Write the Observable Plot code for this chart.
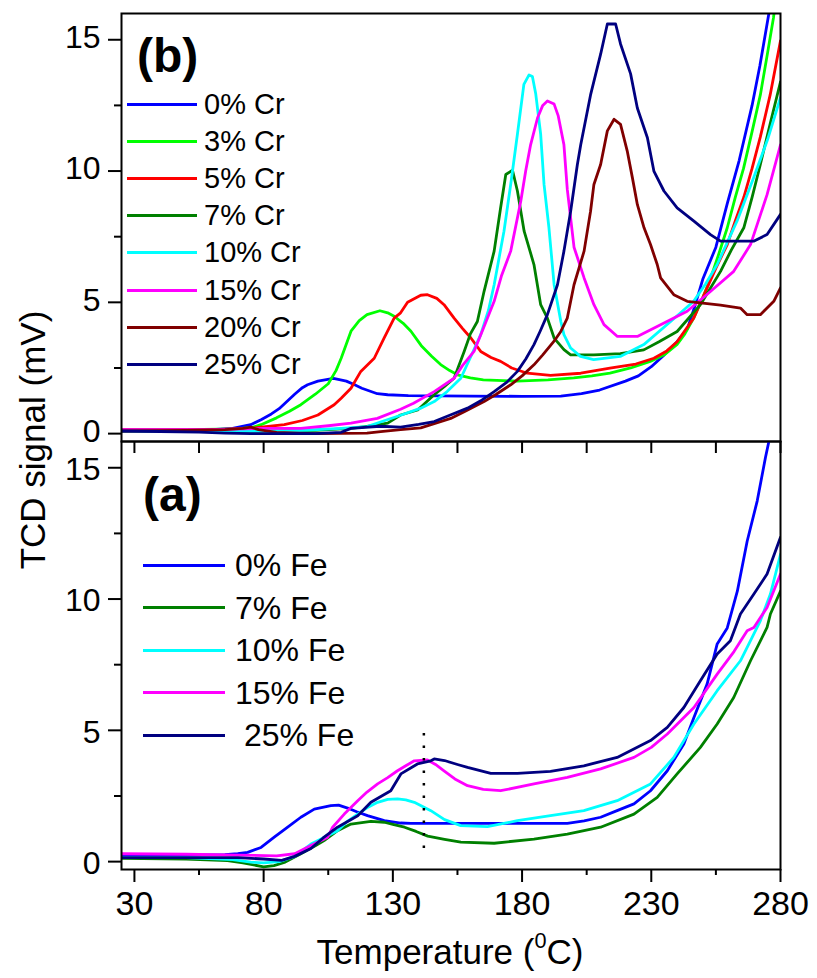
<!DOCTYPE html>
<html><head><meta charset="utf-8">
<script src="https://cdn.jsdelivr.net/npm/d3@7"></script>
<script src="https://cdn.jsdelivr.net/npm/@observablehq/plot@0.6"></script>
<style>
body{margin:0;background:#fff;}
#wrap{position:relative;width:817px;height:978px;background:#fff;font-family:"Liberation Sans",Arial,sans-serif;overflow:hidden;color:#000}
#wrap svg{position:absolute;left:0}
.lg{position:absolute;display:flex;align-items:center;white-space:pre;line-height:1}
.lg .sw{display:inline-block;height:3px}
.ttl{position:absolute;white-space:nowrap;line-height:1}
</style></head><body><div id="wrap"></div>
<script>
// ---------- DATA ----------
const xTicksMajor = [30, 80, 130, 180, 230, 280];
const xTicksMinor = [55, 105, 155, 205, 255];
const yTicksMajor = [0, 5, 10, 15];
const yTicksMinor = [2.5, 7.5, 12.5];

// Panel (b): Cr series  [temperature, signal]
const cr0 = [[25,0.15],[40,0.15],[60,0.15],[68,0.2],[75,0.34],[79,0.53],[83,0.75],[86,0.95],[92,1.5],[95,1.75],[97,1.86],[101,2.0],[107,2.1],[112,2.0],[115,1.87],[118,1.73],[124,1.52],[128,1.48],[136,1.45],[160,1.43],[180,1.42],[195,1.43],[203,1.52],[210,1.66],[220,2.0],[225,2.2],[230,2.55],[235,3.0],[240,3.5],[244,4.0],[247,4.9],[250,5.9],[255,7.1],[259.5,8.8],[264,10.4],[269,12.5],[272,14.0],[275.5,16],[276.5,16.6]];
const cr3 = [[25,0.15],[50,0.15],[70,0.18],[76,0.25],[79,0.34],[85,0.6],[90,0.85],[94.4,1.1],[100,1.5],[105,1.9],[108,2.4],[110,2.87],[113.8,3.9],[117,4.3],[120,4.53],[125,4.68],[128,4.6],[130.5,4.47],[134,4.2],[137,3.9],[141,3.35],[145,2.95],[148.5,2.63],[152,2.4],[155,2.24],[160,2.12],[165,2.05],[178,2.0],[190,2.05],[200,2.12],[207,2.2],[214,2.3],[222,2.5],[229.6,2.75],[235,3.0],[240,3.4],[243,3.8],[246.4,4.4],[250,5.2],[253,5.93],[256,6.8],[259.4,7.84],[262.5,9.0],[265.7,10.1],[269,11.5],[272.2,12.9],[275,14.5],[277.3,15.85],[278,16.4]];
const cr5 = [[25,0.15],[60,0.15],[75,0.2],[88,0.34],[95,0.5],[101,0.71],[107.3,1.1],[110,1.35],[113.8,1.73],[117.6,2.37],[122.8,2.87],[126.6,3.64],[130.5,4.4],[133,4.6],[135.7,5.0],[140.8,5.27],[143.4,5.29],[147,5.15],[149.8,4.91],[153.7,4.4],[157,4.0],[160.2,3.64],[164,3.13],[168,2.9],[171.7,2.75],[176,2.5],[182,2.3],[191,2.22],[202.7,2.3],[214,2.49],[224,2.65],[231,2.87],[236,3.15],[240,3.5],[246.4,4.4],[251.6,5.55],[255,6.3],[259.4,7.2],[262.5,8.1],[265.8,9.0],[269,10.1],[272.2,11.3],[276,12.9],[280,14.96]];
const cr7 = [[25,0.1],[60,0.1],[85,0.1],[100,0.12],[113.8,0.2],[120,0.28],[128,0.4],[133,0.71],[139.6,0.9],[146,1.48],[150,1.8],[153.7,2.11],[157.6,3.13],[160,3.8],[162.7,4.27],[165.3,5.42],[169.2,6.95],[171.7,8.6],[173.7,9.87],[176.3,10.03],[178.2,9.24],[180.8,7.71],[184.6,6.44],[187.2,4.91],[189.8,4.4],[192.4,3.64],[196.2,3.2],[198.8,3.0],[207.8,3.0],[218,3.05],[227.1,3.19],[233,3.5],[240,3.89],[249,4.91],[256.8,6.18],[261,7.0],[265.8,7.84],[269,9.0],[272.2,10.25],[276,11.8],[280,13.4]];
const cr10 = [[25,0.1],[60,0.1],[90,0.1],[110,0.2],[120,0.27],[133,0.7],[140.8,0.97],[146,1.22],[151,1.6],[156.3,2.11],[160,2.9],[164,3.77],[167,4.7],[169.2,5.67],[173,7.71],[175.6,9.49],[178.2,11.4],[180.7,13.3],[182.7,13.66],[184,13.6],[185.3,12.93],[187.2,11.4],[188.5,9.49],[190.4,7.84],[192.4,5.67],[195,4.27],[196.2,3.77],[198.8,3.26],[202.6,2.94],[207.7,2.82],[218,2.94],[227.1,3.39],[237.5,4.27],[246.4,5.04],[251,5.7],[255.5,6.44],[263.2,8.1],[269.6,9.74],[275,11.2],[280,12.8]];
const cr15 = [[25,0.15],[60,0.15],[80,0.2],[94.4,0.2],[105,0.3],[113.8,0.4],[124,0.58],[133,0.93],[138,1.16],[146,1.6],[153.7,2.11],[157,2.6],[161.4,3.13],[165,4.0],[169.2,5.04],[172,6.0],[175.6,6.95],[179.5,8.85],[181.4,10.0],[183.3,11.0],[186,12.03],[188,12.5],[189.8,12.67],[192.4,12.55],[194,12.1],[196.2,11.0],[197.5,9.3],[200.1,7.1],[204,5.93],[207.8,4.91],[211.7,4.15],[216.9,3.7],[224.6,3.7],[233.6,4.15],[243.9,4.66],[253,5.42],[261.9,6.18],[268.4,7.2],[274.8,9.1],[280,11.0]];
const cr20 = [[25,0.1],[50,0.12],[65,0.15],[72,0.2],[75,0.25],[78,0.15],[85,0.05],[100,0.0],[120,0.02],[125.3,0.08],[133,0.15],[140.8,0.22],[146,0.38],[152.4,0.58],[158,0.85],[165.3,1.22],[170,1.5],[175.6,1.86],[180,2.2],[184.6,2.62],[188,3.0],[192.3,3.51],[195,3.89],[197.5,4.4],[200.1,5.67],[204,6.95],[206.5,8.47],[207.8,9.49],[210.4,10.25],[213,11.53],[215.6,11.97],[218.1,11.78],[220.7,10.76],[222.7,9.74],[224.6,8.73],[227.2,7.84],[229.7,7.2],[232.3,6.44],[233.6,5.93],[238.7,5.29],[243.9,5.04],[256.8,4.89],[264.5,4.78],[267.1,4.53],[272.2,4.53],[277.4,5.04],[280,5.55]];
const cr25 = [[25,0.1],[40,0.08],[55,0.06],[65,0.02],[75,0],[100,0],[110,0.05],[113.8,0.2],[125,0.28],[133,0.25],[140,0.35],[146,0.46],[152,0.7],[158.9,0.97],[164,1.25],[169.2,1.6],[174,1.95],[178.2,2.37],[181.5,2.85],[184.6,3.39],[187,3.9],[189.8,4.53],[193.7,5.67],[196.2,6.95],[198.8,8.47],[201.4,10.25],[202.7,11.0],[206.5,12.9],[210.4,14.45],[213,15.6],[216.2,15.6],[218.1,14.84],[222,13.7],[224.6,12.4],[228.5,11.27],[231,10.0],[234.9,9.24],[240,8.6],[246.5,8.09],[252.9,7.58],[256.8,7.33],[269.6,7.33],[274.8,7.58],[280,8.35]];
const crNames = ["0% Cr","3% Cr","5% Cr","7% Cr","10% Cr","15% Cr","20% Cr","25% Cr"];
const crColors = ["#0000ff","#00ff00","#ff0000","#008000","#00ffff","#ff00ff","#800000","#000080"];
const crSeries = [cr0, cr3, cr5, cr7, cr10, cr15, cr20, cr25];

// Panel (a): Fe series
const fe0 = [[25,0.25],[50,0.25],[65,0.27],[70,0.3],[73.8,0.35],[79,0.54],[84.1,0.93],[89.3,1.31],[94.4,1.69],[99.6,2.0],[106,2.13],[109,2.15],[112.5,2.04],[116,1.9],[120.2,1.75],[126.7,1.56],[133,1.47],[137,1.46],[170,1.46],[197.5,1.46],[204,1.55],[210.4,1.69],[217,1.95],[223.3,2.2],[229.7,2.7],[236.2,3.46],[242.6,4.48],[246.5,5.49],[251.6,6.76],[255.5,8.29],[259.4,8.9],[263.3,10.3],[267.1,12.2],[271,13.74],[274.2,15.4],[275.5,16.0],[276,16.4]];
const fe7 = [[25,0.12],[50,0.1],[66,0.04],[72,-0.05],[80,-0.2],[84,-0.15],[88,-0.03],[94.4,0.3],[100,0.6],[103.4,0.8],[108.6,1.18],[113.8,1.43],[121.5,1.53],[126.7,1.5],[130,1.42],[134.5,1.31],[139,1.15],[143.5,0.97],[150,0.85],[156.3,0.74],[169.2,0.7],[184.6,0.86],[197.5,1.05],[210.4,1.31],[223.3,1.81],[232.3,2.45],[240,3.34],[249,4.35],[255.5,5.24],[261.9,6.25],[268.4,7.65],[274.8,8.92],[276.1,9.43],[280,10.3]];
const fe10 = [[25,0.15],[50,0.15],[68,0.08],[75,-0.02],[80,-0.05],[86,0.0],[92,0.2],[98.3,0.67],[103,0.9],[108.6,1.18],[112,1.5],[116.4,1.81],[120,2.05],[124.1,2.26],[128,2.37],[131.8,2.39],[135,2.35],[138.3,2.26],[144.7,1.94],[150,1.6],[156.3,1.37],[166.6,1.33],[178.2,1.56],[191,1.75],[203.9,1.94],[216.8,2.32],[229.7,2.96],[238.7,3.97],[246.5,5.24],[255.5,6.51],[264.5,7.65],[272.2,9.17],[276.1,10.19],[280,11.7]];
const fe15 = [[25,0.3],[50,0.28],[70,0.25],[85,0.22],[92,0.3],[98.3,0.61],[104.8,0.93],[106.7,1.31],[111.2,1.81],[116.4,2.32],[120,2.65],[124.1,2.96],[128,3.2],[131.8,3.46],[135,3.65],[138.3,3.84],[143.4,3.87],[146.5,3.7],[149.8,3.46],[154,3.15],[158.9,2.89],[165,2.75],[171.7,2.7],[184.6,2.96],[197.5,3.21],[210.4,3.53],[223.3,3.97],[230,4.35],[236.2,4.86],[246.5,5.87],[255.5,7.14],[262,8.0],[267.1,8.79],[269.7,8.92],[274.8,9.68],[280,10.95]];
const fe25 = [[25,0.15],[50,0.15],[70,0.15],[80,0.1],[87,0.05],[92,0.2],[98.3,0.5],[103,0.9],[108.6,1.31],[116.4,1.75],[121.5,2.26],[129.2,2.7],[133.1,3.34],[139.5,3.72],[144.7,3.84],[146,3.91],[150,3.85],[155,3.7],[158.9,3.59],[167.9,3.36],[178.2,3.36],[191,3.44],[203.9,3.65],[216.8,3.97],[229.7,4.61],[236.2,5.11],[242.6,5.87],[249,6.89],[255.5,7.91],[260.6,8.41],[264.5,9.43],[269.7,10.19],[274.8,10.95],[280,12.35]];
const feNames = ["0% Fe","7% Fe","10% Fe","15% Fe"," 25% Fe"];
const feColors = ["#0000ff","#008000","#00ffff","#ff00ff","#000080"];
const feSeries = [fe0, fe7, fe10, fe15, fe25];

// dotted marker in panel (a)
const markerTemp = [142];
const markerRange = [0.5, 4.9];

// ---------- BUILD ----------
const FONT = '"Liberation Sans", Arial, sans-serif';
const toRows = (series, names) => series.flatMap((pts, i) => pts.map(([T, v]) => ({T, v, s: names[i]})));
const crRows = toRows(crSeries, crNames);
const feRows = toRows(feSeries, feNames);

const W = 817, ML = 121, MR = 37;
const panelH = 428;
const common = {
  width: W, marginLeft: ML, marginRight: MR,
  x: {domain: [25, 280], axis: null},
  y: {domain: [-0.3, 16], axis: null},
  style: {fontFamily: FONT, fontSize: "34px", background: "transparent", overflow: "visible", color: "black"}
};
const yAxes = (shift) => [
  Plot.axisY(yTicksMajor, {tickSize: 13, strokeWidth: 2, label: null, tickFormat: () => ""}),
  Plot.axisY(yTicksMinor, {tickSize: 7, strokeWidth: 2, label: null, tickFormat: () => ""}),
  Plot.text(yTicksMajor, {y: d => d, text: d => String(d), frameAnchor: "left", textAnchor: "end", dx: -21, dy: shift, fontSize: 32, fill: "black"})
];

const topPlot = Plot.plot({
  ...common, height: 441, marginTop: 13, marginBottom: 0,
  color: {domain: crNames, range: crColors},
  marks: [
    Plot.line(crRows, {x: "T", y: "v", z: "s", stroke: "s", strokeWidth: 2.8, clip: true}),
    ...yAxes(-2),
    Plot.frame({stroke: "black", strokeWidth: 2})
  ]
});

const botPlot = Plot.plot({
  ...common, height: 537, marginTop: 0, marginBottom: 537 - panelH,
  color: {domain: feNames, range: feColors},
  marks: [
    Plot.line(feRows, {x: "T", y: "v", z: "s", stroke: "s", strokeWidth: 2.8, clip: true}),
    Plot.ruleX(markerTemp, {x: d => d, y1: markerRange[0], y2: markerRange[1], stroke: "black", strokeWidth: 2.5, strokeDasharray: "2.5,10"}),
    ...yAxes(2),
    Plot.axisX(xTicksMajor, {anchor: "bottom", tickSize: 13, tickPadding: 8, strokeWidth: 2, fontSize: 34, label: null, tickFormat: d => String(d)}),
    Plot.axisX(xTicksMinor, {anchor: "bottom", tickSize: 6, strokeWidth: 2, label: null, tickFormat: () => ""}),
    Plot.tickX(xTicksMajor.concat(xTicksMinor), {x: d => d, insetBottom: panelH - 12, stroke: "black", strokeWidth: 2}),
    Plot.frame({stroke: "black", strokeWidth: 2})
  ]
});

const wrap = document.getElementById("wrap");
topPlot.style.top = "0px";
botPlot.style.top = "441px";
wrap.appendChild(topPlot);
wrap.appendChild(botPlot);

// legends
function legend(names, colors, x0, x1, xt, y0, dy, fs) {
  names.forEach((n, i) => {
    const row = document.createElement("div");
    row.className = "lg";
    const h = 34;
    row.style.left = x0 + "px";
    row.style.top = (y0 + i * dy - h / 2) + "px";
    row.style.height = h + "px";
    row.style.fontSize = fs + "px";
    const sw = document.createElement("span");
    sw.className = "sw";
    sw.style.width = (x1 - x0) + "px";
    sw.style.background = colors[i];
    sw.style.marginRight = (xt - x1) + "px";
    const tx = document.createElement("span");
    tx.textContent = n;
    row.appendChild(sw); row.appendChild(tx);
    wrap.appendChild(row);
  });
}
legend(crNames, crColors, 127, 197, 204, 104, 37.2, 29);
legend(feNames, feColors, 143, 225, 235, 565, 42.5, 32);

function label(html, css) {
  const d = document.createElement("div");
  d.className = "ttl";
  d.innerHTML = html;
  Object.assign(d.style, css);
  wrap.appendChild(d);
}
label("(b)", {left: "137px", top: "32px", fontSize: "48px", fontWeight: "bold"});
label("(a)", {left: "143px", top: "471px", fontSize: "48px", fontWeight: "bold"});
label("TCD signal (mV)", {left: "32px", top: "440px", fontSize: "35px", transform: "translate(-50%,-50%) rotate(-90deg)"});
label('Temperature (<sup style="font-size:0.62em;vertical-align:0.75em">0</sup>C)', {left: "450px", top: "930px", fontSize: "35px", transform: "translateX(-50%)"});
</script>
</body></html>
